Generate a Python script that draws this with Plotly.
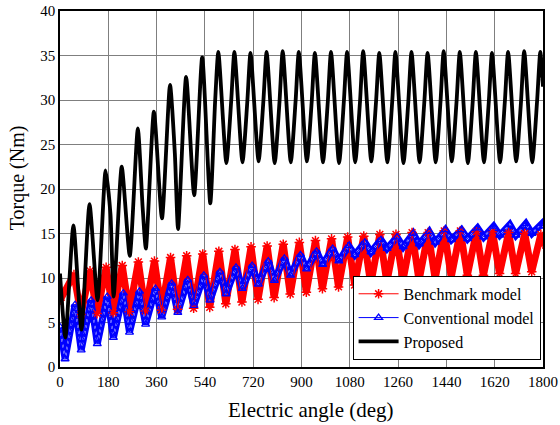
import plotly.graph_objects as go

# ---- data: torque vs electric angle, one entry per 60-deg cycle (30 cycles) ----
cycle_start = [0, 60, 120, 180, 240, 300, 360, 420, 480, 540,
               600, 660, 720, 780, 840, 900, 960, 1020, 1080, 1140,
               1200, 1260, 1320, 1380, 1440, 1500, 1560, 1620, 1680, 1740]

# Proposed machine (Nm)
prop_start = 10.5
prop_trough = [3.3, 4.2, 7.5, 7.9, 12.5, 13.3, 16.7, 15.5, 19.3, 18.4,
               22.9, 23.0, 23.1, 22.9, 23.0, 23.1, 23.0, 22.9, 23.0, 23.1,
               23.0, 22.9, 23.0, 23.0, 23.1, 22.9, 23.0, 23.0, 23.1, 23.0]
prop_shoulder = [None, None, None, None, None, None, None, None, None, 29.8,
                 29.9, 29.8, 29.9, 29.8, 29.9, 29.8, 29.8, 29.9, 29.8, 29.9,
                 29.8, 29.8, 29.9, 29.8, 29.9, 29.8, 29.8, 29.9, 29.8, 29.9]
prop_peak = [15.9, 18.3, 22.1, 22.5, 26.8, 28.7, 31.7, 32.6, 34.8, 35.4,
             35.4, 35.3, 35.4, 35.5, 35.4, 35.3, 35.4, 35.4, 35.5, 35.3,
             35.4, 35.4, 35.3, 35.5, 35.4, 35.4, 35.3, 35.4, 35.5, 35.4]
prop_knee = [None, None, 17.2, None, 17.9, None, 24.0, None, None, None,
             None, None, None, None, None, None, None, None, None, None,
             None, None, None, None, None, None, None, None, None, None]
prop_end = 31.5

# Benchmark model (Nm)
bench_start = 7.5
bench_top = [10.4, 10.8, 11.2, 11.4, 11.8, 11.9, 12.3, 12.5, 12.7, 13.0,
             13.2, 13.5, 13.6, 13.8, 14.0, 14.2, 14.4, 14.6, 14.7, 14.9,
             14.9, 15.1, 15.1, 15.3, 15.3, 15.2, 15.2, 15.1, 15.0, 14.9]
bench_bottom = [5.9, 6.0, 6.1, 6.2, 6.3, 6.4, 6.5, 6.6, 6.7, 7.1,
                7.3, 7.6, 7.8, 8.2, 8.4, 8.8, 9.0, 9.2, 9.3, 9.5,
                9.7, 9.7, 9.9, 10.1, 10.3, 10.3, 10.5, 10.5, 10.7]
bench_end = 13.8

# Conventional model (Nm)
conv_start = 4.5
conv_bottom = [0.9, 1.9, 2.6, 3.3, 3.9, 4.8, 5.6, 6.1, 6.9, 7.5,
               8.2, 8.8, 9.3, 9.7, 10.3, 11.0, 11.5, 11.9, 12.6, 12.9,
               13.3, 13.5, 13.8, 14.0, 14.3, 14.4, 14.6, 14.8, 14.8, 15.0]
conv_top = [7.0, 7.5, 7.9, 8.3, 8.5, 8.8, 9.4, 9.8, 10.3, 10.7,
            11.2, 11.4, 11.9, 12.2, 12.6, 13.0, 13.3, 13.6, 14.0, 14.3,
            14.6, 15.0, 15.2, 15.4, 15.4, 15.6, 15.8, 16.0, 16.1, 16.1]
conv_end = 15.8

x_ticks = [0, 180, 360, 540, 720, 900, 1080, 1260, 1440, 1620, 1800]
y_ticks = [0, 5, 10, 15, 20, 25, 30, 35, 40]

END_DEG = 1800
# phase of each waveform feature inside a cycle (deg)
PROP_TROUGH, PROP_SHOULDER, PROP_PEAK, PROP_KNEE = 20, 38, 50, 68
BENCH_TOP, BENCH_BOTTOM = 52, 78
CONV_BOTTOM, CONV_TOP = 19, 56


def build(start, end, features):
    """Assemble the vertex list of a waveform from per-cycle feature values."""
    xs, ys = [0], [start]
    for i, c in enumerate(cycle_start):
        for phase, vals in features:
            if i < len(vals) and vals[i] is not None and c + phase <= END_DEG:
                xs.append(c + phase)
                ys.append(vals[i])
    xs.append(END_DEG)
    ys.append(end)
    return xs, ys


px_, py_ = build(prop_start, prop_end,
                 [(PROP_TROUGH, prop_trough), (PROP_SHOULDER, prop_shoulder),
                  (PROP_PEAK, prop_peak), (PROP_KNEE, prop_knee)])
bx, by = build(bench_start, bench_end,
               [(BENCH_TOP, bench_top), (BENCH_BOTTOM, bench_bottom)])
cx, cy = build(conv_start, conv_end,
               [(CONV_BOTTOM, conv_bottom), (CONV_TOP, conv_top)])

RED, BLUE, BLACK = "#ff0000", "#0000ff", "#000000"
SERIF = "Times New Roman, Liberation Serif, DejaVu Serif, serif"

fig = go.Figure()

# dense-marker bands
fig.add_trace(go.Scatter(x=bx, y=by, mode="lines", showlegend=False, hoverinfo="skip",
                         line=dict(color=RED, width=7)))
fig.add_trace(go.Scatter(x=cx, y=cy, mode="lines", showlegend=False, hoverinfo="skip",
                         line=dict(color=BLUE, width=7)))
fig.add_trace(go.Scatter(x=cx, y=cy, mode="lines", showlegend=False, hoverinfo="skip",
                         line=dict(color="white", width=1.5, dash="dot")))

# legend-bearing series
fig.add_trace(go.Scatter(
    x=bx, y=by, mode="lines+markers", name="Benchmark model",
    line=dict(color=RED, width=1),
    marker=dict(symbol="asterisk-open", size=8, color=RED, line=dict(color=RED, width=1.5))))
fig.add_trace(go.Scatter(
    x=cx, y=cy, mode="lines+markers", name="Conventional model",
    line=dict(color=BLUE, width=1),
    marker=dict(symbol="triangle-up-open", size=7, color=BLUE, line=dict(color=BLUE, width=1.3))))
fig.add_trace(go.Scatter(
    x=px_, y=py_, mode="lines", name="Proposed",
    line=dict(color=BLACK, width=3.8, shape="spline", smoothing=0.6)))

axis_common = dict(
    showgrid=True, gridcolor="#7f7f7f", gridwidth=1,
    showline=True, linecolor=BLACK, linewidth=1.5, mirror=True,
    zeroline=False, ticks="", automargin=False,
    tickfont=dict(family=SERIF, size=15, color=BLACK),
)

fig.update_layout(
    width=560, height=425,
    margin=dict(l=60, r=17, t=11, b=58),
    paper_bgcolor="white", plot_bgcolor="white",
    font=dict(family=SERIF, color=BLACK),
    xaxis=dict(range=[0, 1800], tickvals=x_ticks, **axis_common),
    yaxis=dict(range=[0, 40], tickvals=y_ticks, **axis_common),
    legend=dict(x=0.995, y=0.02, xanchor="right", yanchor="bottom",
                bgcolor="white", bordercolor=BLACK, borderwidth=1,
                font=dict(family=SERIF, size=16, color=BLACK),
                tracegroupgap=0, itemwidth=40),
    showlegend=True,
    annotations=[
        dict(text="Electric angle (deg)", xref="paper", yref="paper",
             x=0.52, y=0, yshift=-43, xanchor="center", yanchor="middle",
             showarrow=False, font=dict(family=SERIF, size=21, color=BLACK)),
        dict(text="Torque (Nm)", xref="paper", yref="paper", textangle=-90,
             x=0, y=0.53, xshift=-43, xanchor="center", yanchor="middle",
             showarrow=False, font=dict(family=SERIF, size=20, color=BLACK)),
    ],
)

fig.write_html("out.html")
